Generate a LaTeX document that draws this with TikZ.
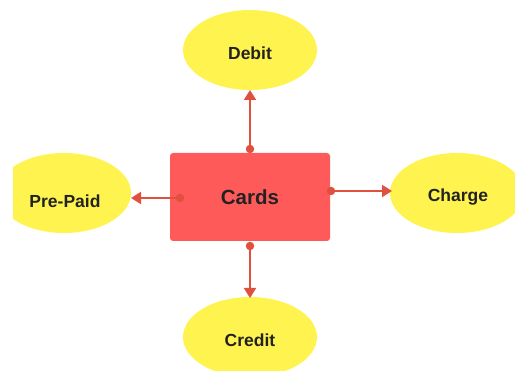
\documentclass[tikz,border=0pt]{standalone}
\usepackage{fontspec}
\setmainfont{Liberation Sans}
\usetikzlibrary{arrows.meta,shapes.geometric}
\definecolor{cardred}{HTML}{FF5A5A}
\definecolor{leafyellow}{HTML}{FFF44F}
\definecolor{linkred}{HTML}{E0503F}
\definecolor{txt}{HTML}{222222}
\begin{document}
\begin{tikzpicture}[x=1pt,y=-1pt,
  leaf/.style={ellipse,fill=leafyellow,minimum width=134pt,minimum height=80pt,inner sep=0pt},
  lbl/.style={font=\bfseries\fontsize{17.5}{20}\selectfont,text=txt,inner sep=0pt},
  hub/.style={rectangle,rounded corners=3pt,fill=cardred,minimum width=160pt,minimum height=88pt,
    font=\bfseries\fontsize{20.5}{24}\selectfont,text=txt},
  link/.style={draw=linkred,line width=2pt,-{Triangle[length=10pt,width=12pt]}},
  dotpt/.style={circle,fill=linkred,inner sep=0pt,minimum size=8.5pt}]
\useasboundingbox (0,0) rectangle (515,371);
\begin{scope}
\clip (13,0) rectangle (515,371);
\node[leaf] (debit) at (250,50) {};
\node[leaf] (prepaid) at (64,193) {};
\node[leaf] (charge) at (457,193) {};
\node[leaf] (credit) at (250,337) {};
\end{scope}
\node[lbl] (debitlbl) at ([yshift=-3pt]debit.center) {Debit};
\node[lbl] (prepaidlbl) at ([xshift=1pt,yshift=-8.5pt]prepaid.center) {Pre-Paid};
\node[lbl] (chargelbl) at ([xshift=1pt,yshift=-4pt]charge.center) {Charge};
\node[lbl] (creditlbl) at ([yshift=-3.5pt]credit.center) {Credit};
\node[hub] (cards) at (250,197) {Cards};
\node[dotpt] (d1) at (250,149) {};
\node[dotpt] (d2) at (180,198) {};
\node[dotpt] (d3) at (331,191) {};
\node[dotpt] (d4) at (250,246) {};
\coordinate (t1) at (250,90);
\coordinate (t2) at (131,198);
\coordinate (t3) at (392,191);
\coordinate (t4) at (250,298);
\draw[link] (d1.center) -- (t1);
\draw[link] (d2.center) -- (t2);
\draw[link] (d3.center) -- (t3);
\draw[link] (d4.center) -- (t4);
\end{tikzpicture}
\end{document}
